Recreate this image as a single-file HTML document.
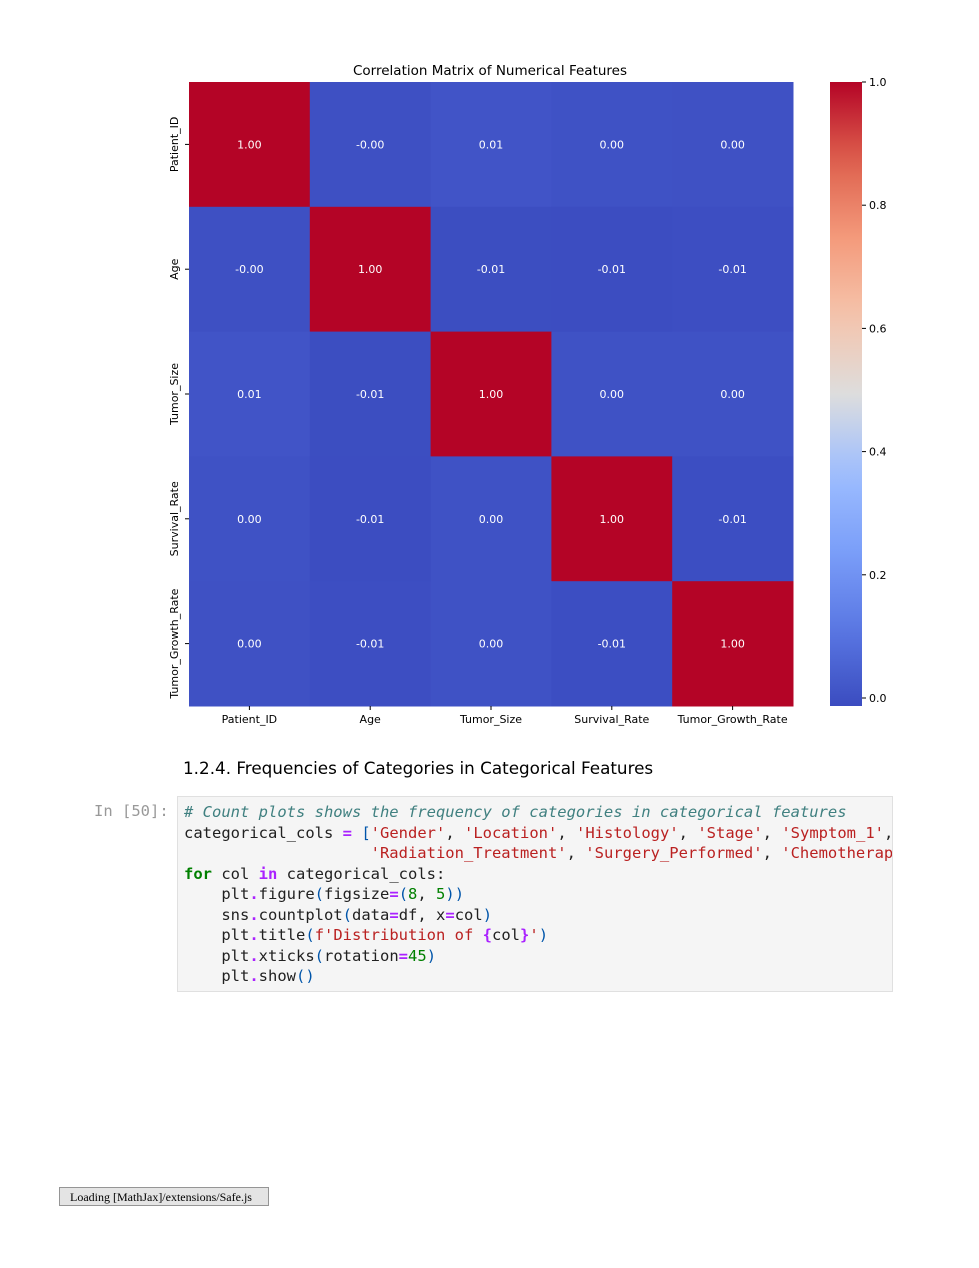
<!DOCTYPE html>
<html><head><meta charset="utf-8"><style>
body{margin:0;background:#fff;width:979px;height:1268px;position:relative;overflow:hidden;font-family:"Liberation Sans","DejaVu Sans",sans-serif}
.abs{position:absolute}
#code{left:177px;top:796px;width:716px;height:196px;background:#f5f5f5;border:1px solid #e0e0e0;box-sizing:border-box}
pre{margin:0;position:absolute;left:6px;top:5px;font-family:"DejaVu Sans Mono","Liberation Mono",monospace;font-size:15.5px;line-height:20.5px;color:#212121;white-space:pre;overflow:hidden;width:708px}
.c{color:#408080;font-style:italic}.s{color:#ba2121}.k{color:#008000;font-weight:bold}.o{color:#aa22ff;font-weight:bold}.n{color:#008000}.p{color:#0055aa}
</style></head><body>
<svg class="abs" style="left:0;top:0" width="979" height="740" id="chart" font-family="DejaVu Sans, Liberation Sans, sans-serif">
<text x="490" y="75" text-anchor="middle" font-size="13.5" fill="#000">Correlation Matrix of Numerical Features</text>
<defs><linearGradient id="cbg" x1="0" y1="1" x2="0" y2="0"></linearGradient></defs>
<g id="cells"></g><g id="cbar"></g>
</svg>
<div class="abs" style="left:183px;top:758px;font-size:16.8px;color:#000;font-family:'DejaVu Sans','Liberation Sans',sans-serif">1.2.4. Frequencies of Categories in Categorical Features</div>
<div class="abs" style="left:94px;top:802px;font-family:'DejaVu Sans Mono','Liberation Mono',monospace;font-size:15.5px;color:#999">In [50]:</div>
<div class="abs" id="code"><pre><span class="c"># Count plots shows the frequency of categories in categorical features</span>
categorical_cols <span class="o">=</span> <span class="p">[</span><span class="s">'Gender'</span>, <span class="s">'Location'</span>, <span class="s">'Histology'</span>, <span class="s">'Stage'</span>, <span class="s">'Symptom_1'</span>,
                    <span class="s">'Radiation_Treatment'</span>, <span class="s">'Surgery_Performed'</span>, <span class="s">'Chemotherapy'</span>
<span class="k">for</span> col <span class="o">in</span> categorical_cols:
    plt<span class="o">.</span>figure<span class="p">(</span>figsize<span class="o">=</span><span class="p">(</span><span class="n">8</span>, <span class="n">5</span><span class="p">))</span>
    sns<span class="o">.</span>countplot<span class="p">(</span>data<span class="o">=</span>df, x<span class="o">=</span>col<span class="p">)</span>
    plt<span class="o">.</span>title<span class="p">(</span><span class="s">f'Distribution of </span><span class="o">{</span>col<span class="o">}</span><span class="s">'</span><span class="p">)</span>
    plt<span class="o">.</span>xticks<span class="p">(</span>rotation<span class="o">=</span><span class="n">45</span><span class="p">)</span>
    plt<span class="o">.</span>show<span class="p">()</span></pre></div>
<div class="abs" style="left:59px;top:1187px;width:210px;height:19px;background:#e4e4e4;border:1px solid #959595;font-family:'Liberation Serif',serif;font-size:12px;line-height:19px;padding-left:10px;box-sizing:border-box">Loading [MathJax]/extensions/Safe.js</div>
<script>
const labels=["Patient_ID","Age","Tumor_Size","Survival_Rate","Tumor_Growth_Rate"];
const values=[
 [1.00,-0.002,0.01,0.003,0.002],
 [-0.002,1.00,-0.008,-0.01,-0.006],
 [0.01,-0.008,1.00,0.004,0.003],
 [0.003,-0.01,0.004,1.00,-0.007],
 [0.002,-0.006,0.003,-0.007,1.00]];
const cbTicks=[0.0,0.2,0.4,0.6,0.8,1.0];
const vmin=-0.013,vmax=1.0;
const NS="http://www.w3.org/2000/svg";
const stops=[[0,[59,76,192]],[0.125,[90,120,228]],[0.25,[123,159,249]],[0.375,[158,190,255]],[0.5,[221,221,221]],[0.625,[245,196,172]],[0.75,[244,154,123]],[0.875,[222,96,77]],[1,[180,4,38]]];
function cmap(t){t=Math.max(0,Math.min(1,t));for(let i=1;i<stops.length;i++){if(t<=stops[i][0]){const a=stops[i-1],b=stops[i],f=(t-a[0])/(b[0]-a[0]);return "rgb("+a[1].map((v,k)=>Math.round(v+(b[1][k]-v)*f)).join(",")+")";}}return "rgb(180,4,38)";}
const X0=189,Y0=82,W=604,H=624,n=labels.length,cw=W/n,ch=H/n;
const xs=i=>X0+i*cw, ys=i=>Y0+i*ch;
const cells=document.getElementById("cells");
function el(tag,attrs,parent){const e=document.createElementNS(NS,tag);for(const k in attrs)e.setAttribute(k,attrs[k]);parent.appendChild(e);return e;}
values.forEach((row,r)=>row.forEach((v,c)=>{
 const rect=el("rect",{x:xs(c),y:ys(r),width:cw+0.5,height:ch+0.5,fill:cmap((v-vmin)/(vmax-vmin))},cells);
 
 
 const t=el("text",{x:xs(c)+cw/2,y:ys(r)+ch/2+4,"text-anchor":"middle","font-size":"11",fill:"#fff"},cells);
 
 
 t.textContent=(Math.abs(v)<0.005&&v<0?"-0.00":v.toFixed(2));
}));
labels.forEach((l,i)=>{
 el("line",{x1:xs(i)+cw/2,x2:xs(i)+cw/2,y1:Y0+H,y2:Y0+H+4,stroke:"#000"},cells);
 const t=el("text",{x:xs(i)+cw/2,y:Y0+H+17,"text-anchor":"middle","font-size":"11",fill:"#000"},cells);
 
 
 t.textContent=l;
 el("line",{x1:X0-4,x2:X0,y1:ys(i)+ch/2,y2:ys(i)+ch/2,stroke:"#000"},cells);
 const yy=ys(i)+ch/2;
 const t2=el("text",{x:178,y:yy,"text-anchor":"middle","font-size":"11",fill:"#000",transform:"rotate(-90 178 "+yy+")"},cells);
 
 
 t2.textContent=l;
});
const g=document.getElementById("cbg");
for(let i=0;i<=20;i++){el("stop",{offset:i/20,"stop-color":cmap(i/20)},g);}
const cb=document.getElementById("cbar");
const CX=830,CW=32,cy=v=>Y0+H-(v-vmin)/(vmax-vmin)*H;
const bar=el("rect",{x:CX,y:Y0,width:CW,height:H,fill:"url(#cbg)"},cb);


cbTicks.forEach(v=>{
 el("line",{x1:CX+CW,x2:CX+CW+4,y1:cy(v),y2:cy(v),stroke:"#000"},cb);
 const t=el("text",{x:CX+CW+7,y:cy(v)+4,"font-size":"11",fill:"#000"},cb);
 
 
 t.textContent=v.toFixed(1);
});
</script>
</body></html>
